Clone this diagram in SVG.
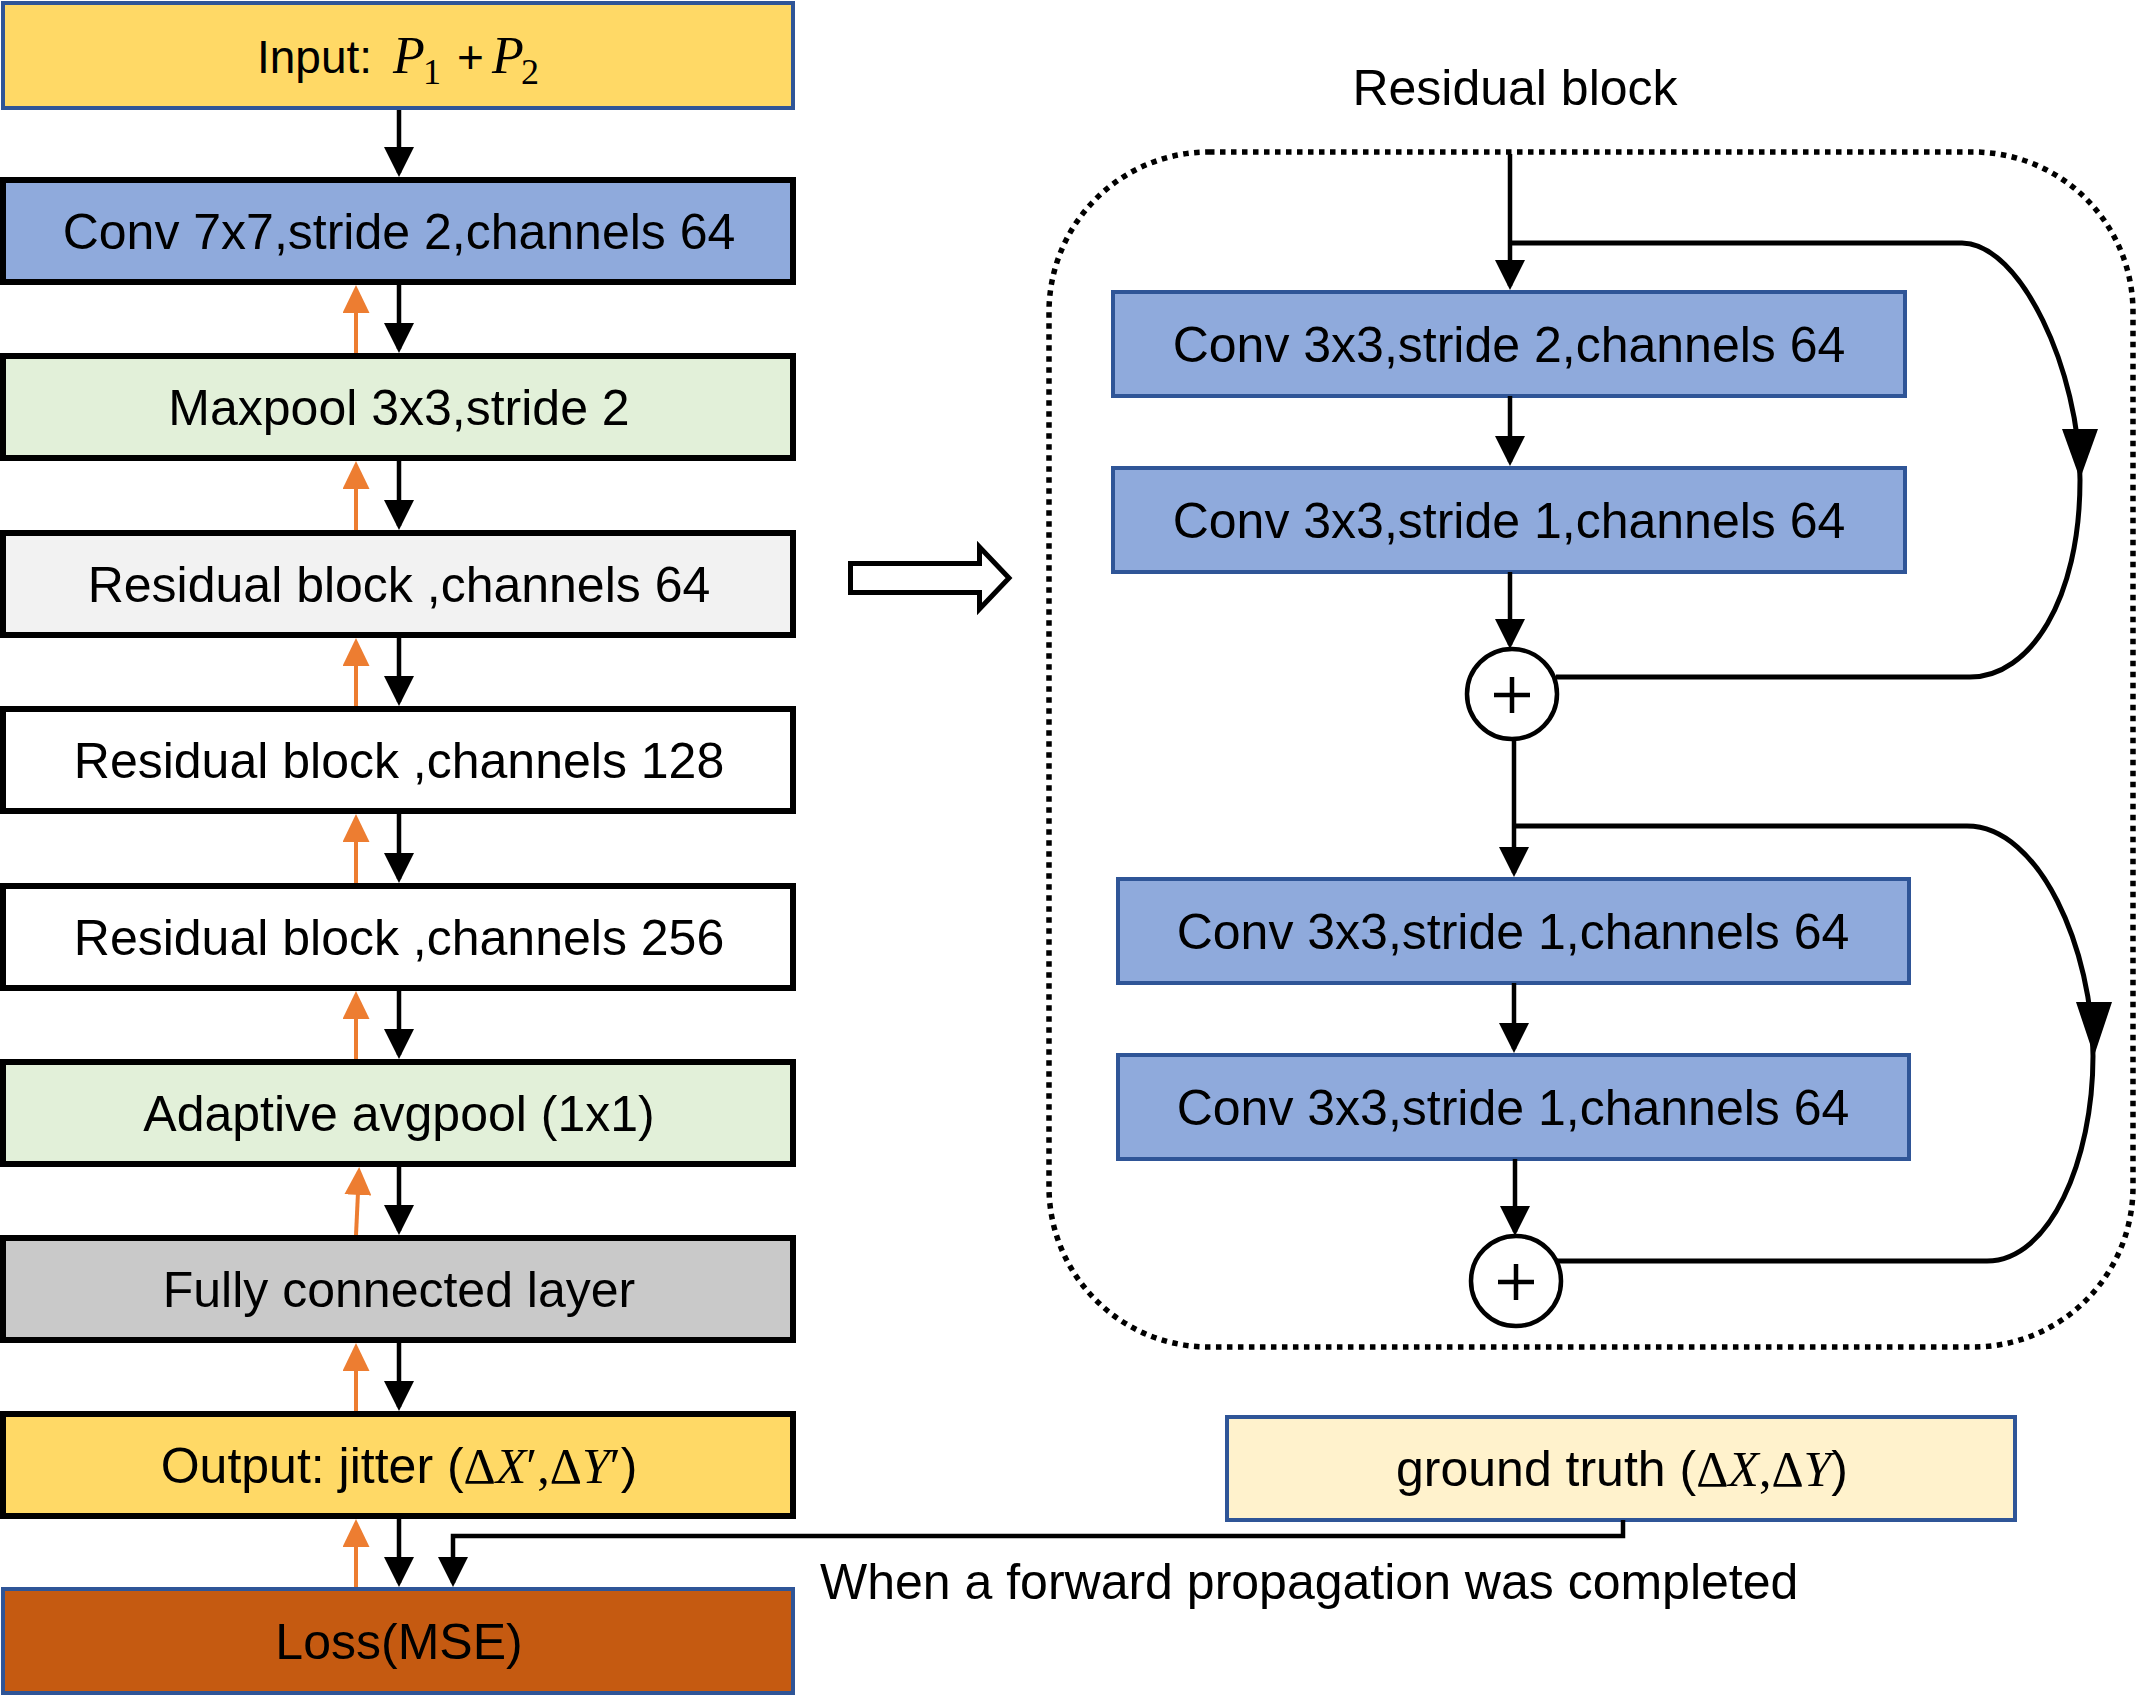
<svg xmlns="http://www.w3.org/2000/svg" width="2139" height="1701" viewBox="0 0 2139 1701">
<style>
.t{font-family:"Liberation Sans",Arial,sans-serif;font-size:50px;fill:#000;text-anchor:middle}
.m{font-family:"Liberation Serif","Times New Roman",serif}
.mi{font-family:"Liberation Serif","Times New Roman",serif;font-style:italic}
.bk{stroke:#000;stroke-width:6}
.bl{stroke:#2F5597;stroke-width:4}
.c{fill:none;stroke:#000;stroke-width:4.5}
.o{fill:none;stroke:#ED7D31;stroke-width:4}
.cv{fill:none;stroke:#000;stroke-width:5}
</style>
<defs>
<marker id="ah" viewBox="0 0 30 30" markerWidth="30" markerHeight="30" markerUnits="userSpaceOnUse" refX="26" refY="15" orient="auto">
<path d="M0,0 L30,15 L0,30 z" fill="#000"/>
</marker>
<marker id="ao" viewBox="0 0 28 27" markerWidth="28" markerHeight="27" markerUnits="userSpaceOnUse" refX="24" refY="13.5" orient="auto">
<path d="M0,0 L28,13.5 L0,27 z" fill="#ED7D31"/>
</marker>
</defs>
<rect width="2139" height="1701" fill="#fff"/>

<g id="input"><rect x="3" y="3" width="790" height="105" fill="#FFD966" class="bl"/>
<text y="73" font-family="Liberation Sans,Arial,sans-serif" font-size="46"><tspan x="257">Input:</tspan><tspan x="393" class="mi" font-size="52">P</tspan><tspan x="423" y="84" class="m" font-size="36">1</tspan><tspan x="457" y="73">+</tspan><tspan x="492" class="mi" font-size="52">P</tspan><tspan x="521" y="84" class="m" font-size="36">2</tspan></text></g>

<g id="conv7"><rect x="3" y="180" width="790" height="102" fill="#8FAADC" class="bk"/><text x="399" y="249" class="t">Conv 7x7,stride 2,channels 64</text></g>
<g id="maxpool"><rect x="3" y="356" width="790" height="102" fill="#E2F0D9" class="bk"/><text x="399" y="425" class="t">Maxpool 3x3,stride 2</text></g>
<g id="res64"><rect x="3" y="533" width="790" height="102" fill="#F2F2F2" class="bk"/><text x="399" y="602" class="t">Residual block ,channels 64</text></g>
<g id="res128"><rect x="3" y="709" width="790" height="102" fill="#FFFFFF" class="bk"/><text x="399" y="778" class="t">Residual block ,channels 128</text></g>
<g id="res256"><rect x="3" y="886" width="790" height="102" fill="#FFFFFF" class="bk"/><text x="399" y="955" class="t">Residual block ,channels 256</text></g>
<g id="avgpool"><rect x="3" y="1062" width="790" height="102" fill="#E2F0D9" class="bk"/><text x="399" y="1131" class="t">Adaptive avgpool (1x1)</text></g>
<g id="fc"><rect x="3" y="1238" width="790" height="102" fill="#C9C9C9" class="bk"/><text x="399" y="1307" class="t">Fully connected layer</text></g>
<g id="output"><rect x="3" y="1414" width="790" height="102" fill="#FFD966" class="bk"/><text x="399" y="1483" class="t">Output: jitter (<tspan class="m">Δ</tspan><tspan class="mi">X</tspan><tspan class="m">′</tspan><tspan class="m">,</tspan><tspan class="m">Δ</tspan><tspan class="mi">Y</tspan><tspan class="m">′</tspan>)</text></g>
<g id="loss"><rect x="3" y="1589" width="790" height="104" fill="#C55A11" class="bl"/><text x="399" y="1659" class="t">Loss(MSE)</text></g>

<g id="residual-block">
<rect x="1049" y="152" width="1084" height="1195" rx="160" ry="160" fill="none" stroke="#000" stroke-width="5.5" stroke-dasharray="5.5 5.5"/>
<text x="1515" y="105" class="t">Residual block</text>
</g>
<g id="convA"><rect x="1113" y="292" width="792" height="104" fill="#8FAADC" class="bl"/><text x="1509" y="362" class="t">Conv 3x3,stride 2,channels 64</text></g>
<g id="convB"><rect x="1113" y="468" width="792" height="104" fill="#8FAADC" class="bl"/><text x="1509" y="538" class="t">Conv 3x3,stride 1,channels 64</text></g>
<g id="convC"><rect x="1118" y="879" width="791" height="104" fill="#8FAADC" class="bl"/><text x="1513" y="949" class="t">Conv 3x3,stride 1,channels 64</text></g>
<g id="convD"><rect x="1118" y="1055" width="791" height="104" fill="#8FAADC" class="bl"/><text x="1513" y="1125" class="t">Conv 3x3,stride 1,channels 64</text></g>
<g id="add1"><circle cx="1512" cy="694" r="45" fill="#fff" stroke="#000" stroke-width="4.5"/><path d="M1494,695 H1530 M1512,677 V713" stroke="#000" stroke-width="4.5"/></g>
<g id="add2"><circle cx="1516" cy="1281" r="45" fill="#fff" stroke="#000" stroke-width="4.5"/><path d="M1498,1282 H1534 M1516,1264 V1300" stroke="#000" stroke-width="4.5"/></g>

<g id="ground-truth"><rect x="1227" y="1417" width="788" height="103" fill="#FFF2CC" class="bl"/><text x="1622" y="1486" class="t">ground truth (<tspan class="m">Δ</tspan><tspan class="mi">X</tspan><tspan class="m">,</tspan><tspan class="m">Δ</tspan><tspan class="mi">Y</tspan>)</text></g>

<g id="note"><text x="820" y="1599" font-family="Liberation Sans,Arial,sans-serif" font-size="50">When a forward propagation was completed</text></g>

<g id="expand-arrow"><polygon points="850.5,563.5 979.5,563.5 979.5,547 1009,578 979.5,609 979.5,592.5 850.5,592.5" fill="#fff" stroke="#000" stroke-width="5"/></g>

<g id="connectors">
<path class="c" marker-end="url(#ah)" d="M399,110 V173"/>
<path class="c" marker-end="url(#ah)" d="M399,283 V349"/>
<path class="c" marker-end="url(#ah)" d="M399,459 V526"/>
<path class="c" marker-end="url(#ah)" d="M399,636 V702"/>
<path class="c" marker-end="url(#ah)" d="M399,812 V879"/>
<path class="c" marker-end="url(#ah)" d="M399,989 V1055"/>
<path class="c" marker-end="url(#ah)" d="M399,1165 V1231"/>
<path class="c" marker-end="url(#ah)" d="M399,1341 V1407"/>
<path class="c" marker-end="url(#ah)" d="M399,1517 V1583"/>

<path class="o" marker-end="url(#ao)" d="M356,353 V289"/>
<path class="o" marker-end="url(#ao)" d="M356,530 V465"/>
<path class="o" marker-end="url(#ao)" d="M356,706 V642"/>
<path class="o" marker-end="url(#ao)" d="M356,883 V818"/>
<path class="o" marker-end="url(#ao)" d="M356,1059 V995"/>
<path class="o" marker-end="url(#ao)" d="M356,1235 L359,1171"/>
<path class="o" marker-end="url(#ao)" d="M356,1411 V1347"/>
<path class="o" marker-end="url(#ao)" d="M356,1587 V1523"/>

<path class="c" marker-end="url(#ah)" d="M1623,1520 V1536 H453 V1583"/>

<path class="c" marker-end="url(#ah)" d="M1510,154 V286"/>
<path class="cv" d="M1510,243 H1962 C2020,243 2080,370 2080,480 C2080,600 2030,677 1970,677 H1556"/>
<polygon points="2062,429 2098,429 2080,479" fill="#000"/>
<path class="c" marker-end="url(#ah)" d="M1510,396 V462"/>
<path class="c" marker-end="url(#ah)" d="M1510,572 V645"/>
<path class="c" marker-end="url(#ah)" d="M1514,739 V873"/>
<path class="cv" d="M1514,826 H1967 C2040,826 2093,950 2093,1056 C2093,1160 2050,1261 1987,1261 H1557"/>
<polygon points="2076,1002 2112,1002 2094,1056" fill="#000"/>
<path class="c" marker-end="url(#ah)" d="M1514,983 V1049"/>
<path class="c" marker-end="url(#ah)" d="M1515,1159 V1232"/>
</g>
</svg>
